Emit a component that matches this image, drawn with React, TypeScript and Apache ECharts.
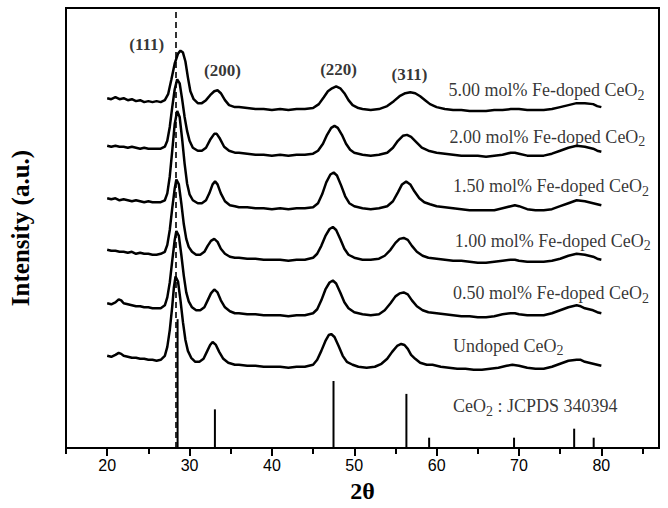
import React, { useEffect, useRef } from "react";
import * as echarts from "echarts";

// 2θ (deg) vs intensity (a.u., stacked traces)
const doped500: number[][] = [[20,353],[20.5,352],[21,354],[21.5,352],[22,353],[22.5,351],[23,352],[23.5,350],[24,351],[24.5,349],[25,350],[25.5,349],[26,350],[26.5,349],[27,351],[27.4,357],[27.8,372],[28.2,388],[28.6,398],[28.9,401],[29.2,399],[29.5,390],[29.8,374],[30.1,360],[30.5,352],[31,348],[31.5,348],[32,351],[32.5,356],[33,360],[33.4,361],[33.8,358],[34.3,351],[34.8,346],[35.5,344],[36,344],[37,343],[38,342],[39,342],[40,341],[41,342],[42,341],[43,342],[44,342],[45,343],[45.7,347],[46.3,354],[46.8,360],[47.3,363],[47.8,365],[48.3,363],[48.8,358],[49.3,351],[49.8,346],[50.5,343],[51,342],[52,341],[53,342],[54,345],[54.8,350],[55.5,355],[56.2,358],[56.8,359],[57.4,358],[58,355],[58.6,351],[59.2,347],[60,344],[61,342],[62,341],[63,341],[64,340],[65,340],[66,340],[67,341],[68,341],[69,342],[70,342],[71,341],[72,341],[73,341],[74,342],[75,344],[76,346],[77,348],[78,348],[79,347],[79.5,345],[80,344]];
const doped200: number[][] = [[20,305],[20.5,304],[21,305],[21.5,304],[22,304],[22.5,303],[23,304],[23.5,303],[24,302],[24.5,303],[25,302],[25.5,302],[26,302],[26.5,302],[27,304],[27.3,310],[27.6,324],[27.9,344],[28.2,362],[28.5,372],[28.8,368],[29.1,352],[29.4,334],[29.7,320],[30,310],[30.4,303],[31,300],[31.5,300],[32,303],[32.5,311],[33,317],[33.3,317],[33.7,312],[34.2,304],[34.8,300],[35.5,298],[36,298],[37,297],[38,296],[39,296],[40,295],[41,296],[42,295],[43,296],[44,296],[45,297],[45.6,300],[46.2,307],[46.7,316],[47.2,323],[47.6,325],[48,323],[48.5,316],[49,307],[49.5,301],[50,298],[51,296],[52,295],[53,296],[54,298],[54.7,303],[55.3,310],[55.9,315],[56.4,316],[56.9,314],[57.5,309],[58.2,303],[59,300],[60,298],[61,297],[62,296],[63,295],[64,295],[65,295],[66,294],[67,295],[68,296],[69,298],[69.5,298],[70,297],[71,295],[72,295],[73,295],[74,297],[75,300],[76,303],[77,305],[78,304],[79,302],[79.5,300],[80,299]];
const doped150: number[][] = [[20,252],[20.5,251],[21,252],[21.5,250],[22,251],[22.5,250],[23,249],[23.5,250],[24,249],[24.5,248],[25,249],[25.5,248],[26,248],[26.5,248],[27,250],[27.3,257],[27.6,274],[27.9,300],[28.2,327],[28.5,340],[28.8,334],[29.1,312],[29.4,287],[29.7,267],[30,256],[30.4,250],[31,247],[31.5,247],[32,250],[32.4,257],[32.8,266],[33.1,269],[33.4,266],[33.8,257],[34.3,249],[34.9,245],[35.5,244],[36,243],[37,243],[38,242],[39,242],[40,241],[41,242],[42,241],[43,242],[44,242],[45,243],[45.6,247],[46.1,256],[46.6,268],[47.1,276],[47.5,278],[47.9,275],[48.4,265],[48.9,254],[49.4,247],[50,244],[51,242],[52,241],[53,242],[54,244],[54.7,249],[55.3,258],[55.8,266],[56.3,269],[56.8,266],[57.3,259],[57.9,252],[58.5,248],[59.2,246],[60,244],[61,243],[62,242],[63,241],[64,240],[65,240],[66,240],[67,240],[68,242],[69,244],[69.5,245],[70,244],[71,241],[72,240],[73,240],[74,241],[75,244],[76,247],[77,250],[78,249],[79,247],[79.5,246],[80,245]];
const doped100: number[][] = [[20,200],[20.5,199],[21,199],[21.5,198],[22,198],[22.5,197],[23,198],[23.5,196],[24,197],[24.5,196],[25,196],[25.5,195],[26,195],[26.5,196],[27,198],[27.3,205],[27.6,220],[27.9,242],[28.2,262],[28.4,271],[28.7,266],[29,247],[29.3,226],[29.6,211],[29.9,203],[30.3,198],[30.8,195],[31.3,195],[31.8,198],[32.2,204],[32.6,209],[33,211],[33.4,208],[33.8,201],[34.3,196],[34.9,193],[35.5,192],[36,192],[37,191],[38,191],[39,190],[40,190],[41,190],[42,189],[43,190],[44,190],[45,192],[45.5,196],[46,204],[46.5,214],[47,221],[47.4,223],[47.8,220],[48.3,211],[48.8,201],[49.3,195],[50,192],[51,190],[52,190],[53,191],[53.7,194],[54.4,200],[55,207],[55.5,211],[56,212],[56.5,210],[57,204],[57.6,198],[58.3,194],[59,192],[60,191],[61,190],[62,189],[63,189],[64,188],[65,187],[66,187],[67,188],[68,189],[69,190],[69.5,190],[70,189],[71,188],[72,188],[73,188],[74,189],[75,191],[76,194],[77,196],[78,195],[79,193],[79.5,191],[80,190]];
const doped050: number[][] = [[20,146],[20.5,145],[21,147],[21.4,150],[21.7,149],[22,146],[22.5,145],[23,144],[23.5,143],[24,143],[24.5,142],[25,142],[25.5,141],[26,141],[26.5,141],[27,144],[27.3,152],[27.6,167],[27.9,189],[28.2,210],[28.4,219],[28.7,214],[29,195],[29.3,174],[29.6,157],[29.9,148],[30.3,142],[30.8,139],[31.3,139],[31.8,142],[32.2,149],[32.6,156],[33,160],[33.4,157],[33.8,149],[34.3,142],[34.9,138],[35.5,136],[36,136],[37,135],[38,135],[39,134],[40,134],[41,134],[42,133],[43,134],[44,134],[45,136],[45.5,140],[46,149],[46.5,160],[47,167],[47.4,169],[47.8,166],[48.3,157],[48.8,147],[49.3,141],[50,137],[51,135],[52,134],[53,135],[53.7,139],[54.4,146],[55,153],[55.5,156],[56,157],[56.5,155],[57,149],[57.6,143],[58.3,139],[59,137],[60,136],[61,135],[62,134],[63,133],[64,133],[65,132],[66,132],[67,133],[68,135],[69,136],[69.5,136],[70,135],[71,134],[72,134],[73,134],[74,136],[75,139],[76,142],[77,144],[77.5,143],[78,141],[79,139],[79.5,137],[80,136]];
const undoped: number[][] = [[20,93],[20.5,92],[21,94],[21.4,96],[21.7,95],[22,93],[22.5,92],[23,91],[23.5,91],[24,90],[24.5,90],[25,89],[25.5,89],[26,88],[26.5,89],[27,93],[27.3,102],[27.6,119],[27.9,143],[28.1,162],[28.3,173],[28.6,168],[28.9,149],[29.2,127],[29.5,109],[29.8,98],[30.2,91],[30.7,87],[31.2,87],[31.7,90],[32.1,97],[32.5,104],[32.8,107],[33.2,104],[33.6,97],[34.1,90],[34.7,86],[35.5,84],[36,84],[37,83],[38,83],[39,82],[40,82],[41,82],[42,81],[43,82],[44,82],[45,84],[45.5,89],[46,98],[46.5,108],[46.9,114],[47.2,115],[47.6,112],[48.1,103],[48.6,93],[49.1,87],[49.8,84],[50.5,82],[51.5,81],[52.5,82],[53.3,85],[54,90],[54.6,97],[55.2,103],[55.7,105],[56.1,104],[56.5,100],[56.9,94],[57.4,90],[58,86],[58.8,84],[59.5,84],[60.5,82],[61.5,81],[62.5,80],[63.5,80],[64.5,79],[65.5,79],[66.5,80],[67.5,81],[68.5,83],[69.2,84],[70,83],[71,81],[72,80],[73,80],[74,82],[75,85],[76,88],[77,89],[77.5,89],[78,87],[79,85],[79.5,84],[80,83]];

const traces = [doped500, doped200, doped150, doped100, doped050, undoped];
const traceNames = ["5.00 mol% Fe-doped CeO", "2.00 mol% Fe-doped CeO", "1.50 mol% Fe-doped CeO", "1.00 mol% Fe-doped CeO", "0.50 mol% Fe-doped CeO", "Undoped CeO"];

// JCPDS 34-0394 reference lines
const jcpdsAngles = [28.55, 33.08, 47.48, 56.33, 59.09, 69.40, 76.70, 79.07];
const jcpdsIntensity = [100, 30, 52, 42, 8, 8, 15, 8];
const jcpdsScale = 1.3;
const dashedAt = 28.35;

const millerLabels = ["(111)", "(200)", "(220)", "(311)"];
const millerAnchors = [[24.8, 407], [34.0, 381], [48.1, 382], [56.7, 377]];
const traceLabelAnchors = [[61.45, 361], [61.55, 314], [62.0, 264], [62.2, 209], [62.0, 156], [62.0, 103]];
const jcpdsLabelAnchor = [62.0, 42];

const majorTicks = [20, 30, 40, 50, 60, 70, 80];
const minorTicks = [15, 25, 35, 45, 55, 65, 75, 85];

const SERIF = "Liberation Serif";

export default function App() {
  const ref = useRef<HTMLDivElement>(null);
  useEffect(() => {
    if (!ref.current) return;
    const chart = echarts.init(ref.current, null, { renderer: "svg" });
    const richStyle = {
      m: { fontFamily: SERIF, fontSize: 18, color: "#000", lineHeight: 24, verticalAlign: "middle" },
      s: { fontFamily: SERIF, fontSize: 14, color: "#000", lineHeight: 13, verticalAlign: "bottom" },
    };
    const series: any[] = traces.map((d, i) => ({
      type: "line",
      name: traceNames[i],
      data: d,
      symbol: "none",
      lineStyle: { color: "#000", width: 2.5 },
      silent: true,
      z: 3,
    }));
    series.push({
      type: "bar",
      data: jcpdsAngles.map((a, i) => [a, jcpdsIntensity[i] * jcpdsScale]),
      barWidth: 2,
      itemStyle: { color: "#000" },
      silent: true,
      z: 2,
      markLine: {
        silent: true,
        symbol: ["none", "none"],
        label: { show: false },
        lineStyle: { color: "#000", width: 1.6, type: [6, 4] },
        data: [{ xAxis: dashedAt }],
      },
    });
    series.push({
      type: "scatter",
      symbolSize: 0,
      silent: true,
      data: traceLabelAnchors.map((p, i) => ({ value: p, name: traceNames[i] })),
      label: {
        show: true,
        position: "right",
        distance: 0,
        formatter: (p: any) => `{m|${p.name}}{s|2}`,
        rich: richStyle,
      },
    });
    series.push({
      type: "scatter",
      symbolSize: 0,
      silent: true,
      data: [{ value: jcpdsLabelAnchor, name: "jcpds" }],
      label: {
        show: true,
        position: "right",
        distance: 0,
        formatter: () => `{m|CeO}{s|2}{m| : JCPDS 340394}`,
        rich: richStyle,
      },
    });
    series.push({
      type: "scatter",
      symbolSize: 0,
      silent: true,
      data: millerAnchors.map((p, i) => ({ value: p, name: millerLabels[i] })),
      label: {
        show: true,
        position: "inside",
        formatter: (p: any) => p.name,
        fontFamily: SERIF,
        fontWeight: "bold",
        fontSize: 17,
        color: "#000",
      },
    });

    chart.setOption({
      animation: false,
      backgroundColor: "#fff",
      grid: { left: 61, right: 9, top: 8, bottom: 56, show: true, borderColor: "#000", borderWidth: 2, backgroundColor: "transparent" },
      xAxis: [
        {
          type: "value",
          min: 15,
          max: 87,
          name: "2θ",
          nameLocation: "middle",
          nameGap: 31,
          nameTextStyle: { fontFamily: SERIF, fontWeight: "bold", fontSize: 24, color: "#000" },
          axisLine: { show: true, onZero: false, lineStyle: { color: "#000", width: 2 } },
          axisTick: { show: true, inside: false, length: 8, lineStyle: { color: "#000", width: 2 }, customValues: majorTicks },
          axisLabel: { show: true, customValues: majorTicks, fontFamily: "Liberation Sans", fontSize: 16, color: "#000", margin: 9 },
          splitLine: { show: false },
        },
        {
          type: "value",
          min: 15,
          max: 87,
          position: "bottom",
          axisLine: { show: false },
          axisTick: { show: true, inside: false, length: 6, lineStyle: { color: "#000", width: 2 }, customValues: minorTicks },
          axisLabel: { show: false },
          splitLine: { show: false },
        },
      ],
      yAxis: {
        type: "value",
        min: 0,
        max: 444,
        name: "Intensity (a.u.)",
        nameLocation: "middle",
        nameGap: 33,
        nameTextStyle: { fontFamily: SERIF, fontWeight: "bold", fontSize: 25, color: "#000" },
        axisLine: { show: true, lineStyle: { color: "#000", width: 2 } },
        axisTick: { show: false },
        axisLabel: { show: false },
        splitLine: { show: false },
      },
      series,
    });
    return () => chart.dispose();
  }, []);
  return <div ref={ref} style={{ position: "absolute", left: 0, top: 0, width: 668, height: 508 }} />;
}
